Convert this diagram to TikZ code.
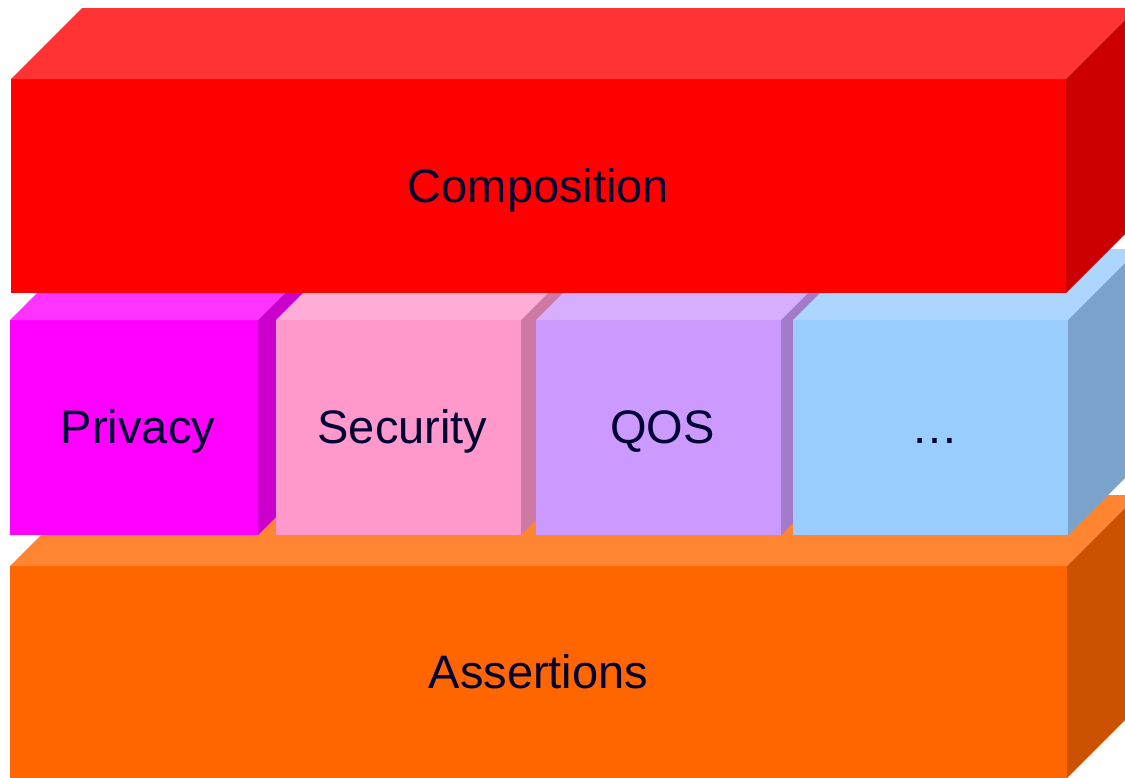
\documentclass[tikz,border=0pt]{standalone}
\usepackage{fontspec}
\setmainfont{Liberation Sans}
\definecolor{txt}{HTML}{000033}
\definecolor{compF}{HTML}{FF0000}\definecolor{compT}{HTML}{FF3333}\definecolor{compS}{HTML}{CC0000}
\definecolor{privF}{HTML}{FF00FF}\definecolor{privT}{HTML}{FF33FF}\definecolor{privS}{HTML}{CC00CC}
\definecolor{secF}{HTML}{FF99CC}\definecolor{secT}{HTML}{FFADD6}\definecolor{secS}{HTML}{CC7AA3}
\definecolor{qosF}{HTML}{CC99FF}\definecolor{qosT}{HTML}{D6ADFF}\definecolor{qosS}{HTML}{A37ACC}
\definecolor{dotF}{HTML}{99CCFF}\definecolor{dotT}{HTML}{ADD6FF}\definecolor{dotS}{HTML}{7AA3CC}
\definecolor{assF}{HTML}{FF6600}\definecolor{assT}{HTML}{FF8533}\definecolor{assS}{HTML}{CC5200}
\newcommand{\cubefaces}[3]{%
  \fill[#2] (#1.north west) -- ++(71pt,71pt) -- ([shift={(71pt,71pt)}]#1.north east) -- (#1.north east) -- cycle;
  \fill[#3] (#1.north east) -- ++(71pt,71pt) -- ([shift={(71pt,71pt)}]#1.south east) -- (#1.south east) -- cycle;
}
\tikzset{
  face/.style={rectangle, inner sep=0pt, outer sep=0pt, font=\fontsize{47}{56}\selectfont, text=txt, text height=34pt, text depth=2pt},
  lbl/.style={font=\fontsize{47}{56}\selectfont, text=txt, inner sep=0pt, text height=34pt, text depth=2pt}
}
\begin{document}
\begin{tikzpicture}[x=1pt,y=-1pt]
\useasboundingbox (0,0) rectangle (1125,777);
\clip (0,0) rectangle (1125,777);
% Assertions
\node[face, fill=assF, minimum width=1057pt, minimum height=212pt] (ass) at (538.5,672) {Assertions};
\cubefaces{ass}{assT}{assS}
% middle row
\node[face, fill=privF, minimum width=248pt, minimum height=215pt, label={[lbl,xshift=4pt]center:Privacy}] (priv) at (134,427.5) {};
\cubefaces{priv}{privT}{privS}
\node[face, fill=secF, minimum width=245pt, minimum height=215pt, label={[lbl,xshift=4pt]center:Security}] (sec) at (398.5,427.5) {};
\cubefaces{sec}{secT}{secS}
\node[face, fill=qosF, minimum width=245pt, minimum height=215pt, label={[lbl,xshift=4pt]center:QOS}] (qos) at (658.5,427.5) {};
\cubefaces{qos}{qosT}{qosS}
\node[face, fill=dotF, minimum width=275pt, minimum height=215pt, label={[lbl,xshift=4pt]center:…}] (dots) at (930.5,427.5) {};
\cubefaces{dots}{dotT}{dotS}
% Composition
\node[face, fill=compF, minimum width=1055pt, minimum height=214pt] (comp) at (538.5,186) {Composition};
\cubefaces{comp}{compT}{compS}
\end{tikzpicture}
\end{document}
